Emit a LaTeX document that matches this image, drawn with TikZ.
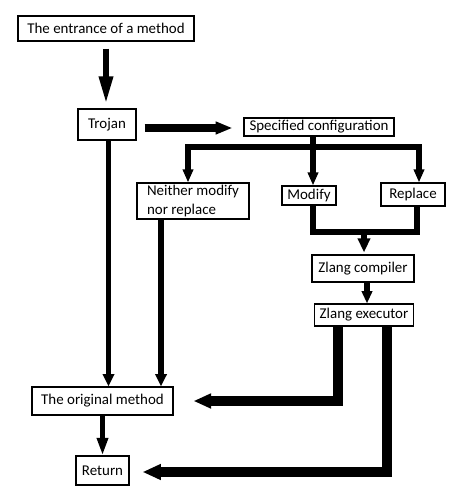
\documentclass[tikz,border=0pt]{standalone}
\usepackage{fontspec}
\setmainfont{Carlito}
\usetikzlibrary{arrows.meta}

\begin{document}
\begin{tikzpicture}[
      x=0.02cm, y=-0.02cm,
      box/.style={draw,line width=0.6pt,inner sep=1pt,align=center,font=\fontsize{8.5}{10.5}\selectfont},
      head/.style 2 args={-{Triangle[length=#1,width=#2]}},
      line cap=butt, line join=miter
      ]
      \useasboundingbox (0,0) rectangle (457,499);

      \node[box, minimum width=3.52cm, minimum height=0.5cm] (entr) at (106,28.5) {The entrance of a method};
      \node[box, minimum width=1.16cm, minimum height=0.62cm] (trojan) at (107,124.5) {Trojan};
      \node[box, minimum width=3.0cm, minimum height=0.36cm] (spec) at (319,127) {Specified configuration};
      \node[box, minimum width=2.24cm, minimum height=0.72cm, align=left] (neither) at (193,201) {Neither modify\\nor replace};
      \node[box, minimum width=1.08cm, minimum height=0.38cm] (modify) at (309,195.5) {Modify};
      \node[box, minimum width=1.28cm, minimum height=0.46cm] (replace) at (413,194.5) {Replace};
      \node[box, minimum width=2.04cm, minimum height=0.54cm] (compiler) at (363,268.5) {Zlang compiler};
      \node[box, minimum width=1.98cm, minimum height=0.44cm] (executor) at (364,315) {Zlang executor};
      \node[box, minimum width=2.82cm, minimum height=0.56cm] (orig) at (102.5,401) {The original method};
      \node[box, minimum width=1.06cm, minimum height=0.58cm] (ret) at (102.5,470.5) {Return};

      % split below the configuration
      \coordinate (barL) at (188,147);
      \coordinate (barM) at (313,147);
      \coordinate (barR) at (419,147);
      % join below modify / replace
      \coordinate (joinL) at (313,232);
      \coordinate (joinR) at (417,232);
      \coordinate (joinM) at (364,232);

      \draw[line width=3.4pt, head={16pt}{7.4pt}, shorten <=0.14cm, shorten >=0.08cm] (entr.south) -- (entr.south |- trojan.north);
      \draw[line width=4pt, head={9.6pt}{6.8pt}, shorten <=0.16cm, shorten >=0.22cm] ([yshift=-0.07cm]trojan.east) -- ([yshift=-0.07cm]trojan.east -| spec.west);

      \draw[line width=3.4pt] (barM |- spec.south) -- (barM);
      \draw[line width=3.4pt, line cap=rect] (barL) -- (barR);
      \draw[line width=3.4pt, head={7.5pt}{5.8pt}] (barL) -- (barL |- neither.north);
      \draw[line width=3.4pt, head={7.5pt}{5.8pt}] (barM) -- (barM |- modify.north);
      \draw[line width=3.4pt, head={7.5pt}{5.8pt}] (barR) -- (barR |- replace.north);

      \draw[line width=3.4pt] (joinL |- modify.south) -- (joinL) -- (joinR) -- (joinR |- replace.south);
      \draw[line width=3.4pt, head={8pt}{6.8pt}, shorten >=0.04cm] (joinM) -- (joinM |- compiler.north);
      \draw[line width=3.4pt, head={7pt}{5.8pt}] ([xshift=0.08cm]compiler.south) -- ([xshift=0.08cm]compiler.south |- executor.north);

      \draw[line width=5.4pt, head={10pt}{8pt}, shorten >=0.4cm] ([xshift=-0.52cm]executor.south) |- (orig.east);
      \draw[line width=6pt, head={10.5pt}{8.5pt}, shorten >=0.26cm] ([xshift=0.46cm]executor.south) |- ([yshift=-0.03cm]ret.east);

      \draw[line width=2.9pt, head={7pt}{6.3pt}] ([xshift=0.03cm]trojan.south) -- ([xshift=0.03cm]trojan.south |- orig.north);
      \draw[line width=2.9pt, head={7pt}{6.3pt}] ([xshift=-0.64cm]neither.south) -- ([xshift=-0.64cm]neither.south |- orig.north);
      \draw[line width=2.9pt, head={10pt}{6pt}] (orig.south) -- (ret.north);
\end{tikzpicture}
\end{document}
